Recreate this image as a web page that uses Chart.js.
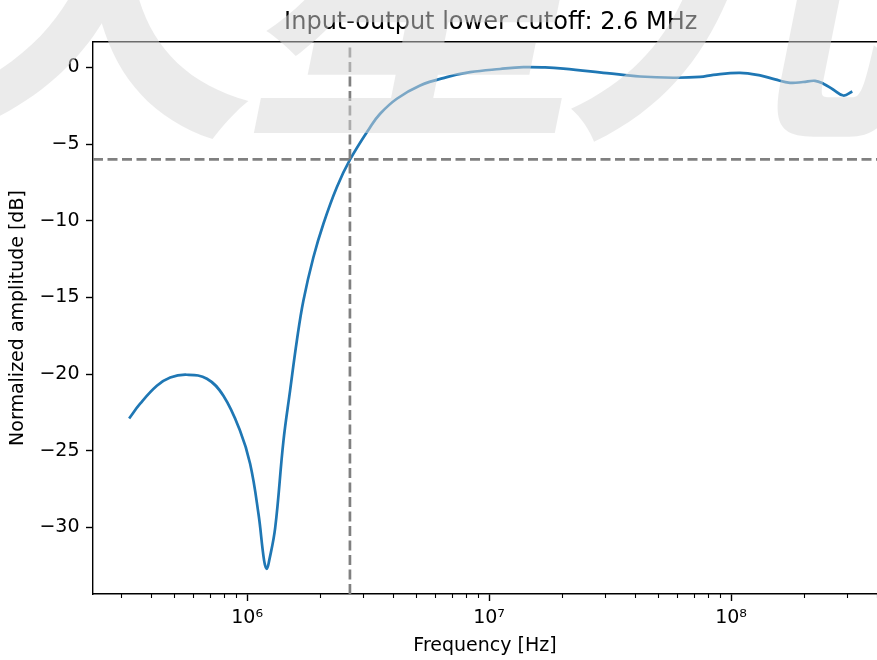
<!DOCTYPE html>
<html>
<head>
<meta charset="utf-8">
<script src="https://cdn.jsdelivr.net/npm/chart.js@4"></script>
<style>
  html, body { margin: 0; padding: 0; background: #fff; }
</style>
</head>
<body>
<canvas id="c" width="877" height="660"></canvas>
<script>
const freqHz = [3.254e5, 3.613e5, 4.236e5, 4.81e5, 5.63e5, 6.82e5, 7.98e5, 9.35e5, 1.029e6, 1.114e6,
  1.176e6, 1.206e6, 1.233e6, 1.306e6, 1.413e6, 1.505e6, 1.605e6, 1.708e6, 1.879e6, 2.067e6,
  2.348e6, 2.665e6, 3.224e6, 3.545e6, 4.156e6, 5.187e6, 6.686e6, 8.346e6, 1.11e7, 1.386e7,
  1.703e7, 2.028e7, 3.065e7, 4.207e7, 5.776e7, 7.445e7, 8.453e7, 1.089e8, 1.318e8, 1.52e8,
  1.753e8, 1.984e8, 2.224e8, 2.407e8, 2.64e8, 2.911e8, 3.171e8];
const ampDb = [-22.89, -21.93, -20.76, -20.22, -20.04, -20.30, -21.41, -23.69, -25.85, -29.11,
  -32.18, -32.70, -32.18, -30.03, -24.35, -21.08, -17.82, -15.21, -12.38, -10.19,
  -7.81, -6.0, -3.90, -3.02, -2.04, -1.17, -0.63, -0.31, -0.10, 0.02,
  0.0, -0.08, -0.37, -0.59, -0.67, -0.62, -0.48, -0.35, -0.52, -0.78,
  -1.00, -0.95, -0.87, -1.06, -1.44, -1.83, -1.57];

const cutoffHz = 2.66e6;
const cutoffDb = -6;

// the axes run a little past the right edge of the figure (to ~4.47e8)
const xMin = 2.307e5, xMax = 4.01e8, xAxisEnd = 4.47e8;
const yMin = -34.34, yMax = 1.66;
const yTicks = [0, -5, -10, -15, -20, -25, -30];
const xMajorTicks = [1e6, 1e7, 1e8];
const xTickLabels = ['10⁶', '10⁷', '10⁸'];
const watermarkChars = ['天', '星', '九'];

let xMinorTicks = [];
for (let d = 1e5; d <= 1e8; d *= 10) {
  for (let m = 2; m <= 9; m++) {
    const v = m * d;
    if (v >= xMin && v <= xMax) xMinorTicks.push(v);
  }
}

const FONT = 'DejaVu Sans';
const isMajor = v => xMajorTicks.some(t => Math.abs(v / t - 1) < 1e-6);

// centre the title over the full axes width, part of which is cut off
const stretchTop = {
  id: 'stretchTop',
  afterLayout(chart) {
    const t = chart.scales.top;
    t.right = chart.scales.x.getPixelForValue(xAxisEnd);
    t.width = t.right - t.left;
  }
};

const minorTicks = {
  id: 'minorTicks',
  afterDraw(chart) {
    const ctx = chart.ctx;
    const xs = chart.scales.x;
    const bottom = chart.chartArea.bottom;
    ctx.save();
    ctx.strokeStyle = '#000';
    ctx.lineWidth = 1.1;
    xMinorTicks.forEach(v => {
      const px = Math.round(xs.getPixelForValue(v)) + 0.5;
      ctx.beginPath();
      ctx.moveTo(px, bottom);
      ctx.lineTo(px, bottom + 4);
      ctx.stroke();
    });
    ctx.restore();
  }
};

// faint slanted characters laid over the top of the figure
const watermark = {
  id: 'watermark',
  afterDraw(chart) {
    const ctx = chart.ctx;
    const centers = [75, 400, 725];
    ctx.save();
    ctx.fillStyle = 'rgba(215,215,215,0.5)';
    ctx.font = 'bold 340px "Noto Sans CJK SC"';
    ctx.textAlign = 'center';
    ctx.textBaseline = 'ideographic';
    watermarkChars.forEach((ch, i) => {
      ctx.save();
      ctx.translate(centers[i], 152);
      ctx.transform(1, 0, -0.2, 1, 0, 0);
      ctx.fillText(ch, 0, 0);
      ctx.restore();
    });
    ctx.restore();
  }
};

const curve = freqHz.map((f, i) => ({ x: f, y: ampDb[i] }));

new Chart(document.getElementById('c').getContext('2d'), {
  type: 'line',
  data: {
    datasets: [
      {
        data: curve,
        borderColor: '#1f77b4',
        borderWidth: 2.7,
        pointRadius: 0,
        tension: 0.4,
        order: 2
      },
      {
        data: [{ x: xMin, y: cutoffDb }, { x: xMax, y: cutoffDb }],
        borderColor: '#808080',
        borderWidth: 2.7,
        borderDash: [10, 4.5],
        pointRadius: 0,
        order: 1
      },
      {
        data: [{ x: cutoffHz, y: yMin }, { x: cutoffHz, y: yMax }],
        borderColor: '#808080',
        borderWidth: 2.7,
        borderDash: [10, 4.5],
        pointRadius: 0,
        order: 1
      }
    ]
  },
  options: {
    responsive: false,
    animation: false,
    layout: { padding: 0 },
    plugins: { legend: { display: false }, tooltip: { enabled: false } },
    scales: {
      x: {
        type: 'logarithmic',
        position: 'bottom',
        min: xMin,
        max: xMax,
        afterBuildTicks: s => { s.ticks = xMajorTicks.concat(xMinorTicks).sort((a, b) => a - b).map(v => ({ value: v })); },
        afterFit: s => { s.height = 66; s.paddingLeft = 0; s.paddingRight = 0; },
        ticks: {
          autoSkip: false,
          maxRotation: 0,
          padding: 6,
          color: '#000',
          font: { family: FONT, size: 19 },
          callback: v => {
            const i = xMajorTicks.findIndex(t => Math.abs(v / t - 1) < 1e-6);
            return i >= 0 ? xTickLabels[i] : '';
          }
        },
        grid: {
          drawOnChartArea: false,
          tickLength: 7,
          tickWidth: 1.4,
          tickColor: c => (c.tick && isMajor(c.tick.value)) ? '#000' : 'rgba(0,0,0,0)'
        },
        border: { color: '#000', width: 1.4 },
        title: {
          display: true,
          text: 'Frequency [Hz]',
          color: '#000',
          font: { family: FONT, size: 19 },
          padding: { top: 0, bottom: 2.6 }
        }
      },
      top: {
        type: 'linear',
        position: 'top',
        afterFit: s => { s.height = 42; s.paddingLeft = 0; s.paddingRight = 0; },
        ticks: { display: false },
        grid: { display: false },
        border: { display: true, color: '#000', width: 1.4 },
        title: {
          display: true,
          text: 'Input-output lower cutoff: 2.6 MHz',
          color: '#000',
          font: { family: FONT, size: 24 },
          padding: { top: 8.6, bottom: 0 }
        }
      },
      y: {
        type: 'linear',
        position: 'left',
        min: yMin,
        max: yMax,
        afterBuildTicks: s => { s.ticks = yTicks.map(v => ({ value: v })); },
        afterFit: s => { s.width = 93; s.paddingTop = 0; s.paddingBottom = 0; },
        ticks: {
          padding: 6.5,
          color: '#000',
          font: { family: FONT, size: 19 },
          callback: v => v < 0 ? '\u2212' + Math.abs(v) : String(v)
        },
        grid: {
          drawOnChartArea: false,
          tickLength: 7,
          tickWidth: 1.4,
          tickColor: '#000'
        },
        border: { color: '#000', width: 1.4 },
        title: {
          display: true,
          text: 'Normalized amplitude [dB]',
          color: '#000',
          font: { family: FONT, size: 19 },
          padding: { top: 6.6, bottom: 0 }
        }
      }
    }
  },
  plugins: [stretchTop, minorTicks, watermark]
});
</script>
</body>
</html>
